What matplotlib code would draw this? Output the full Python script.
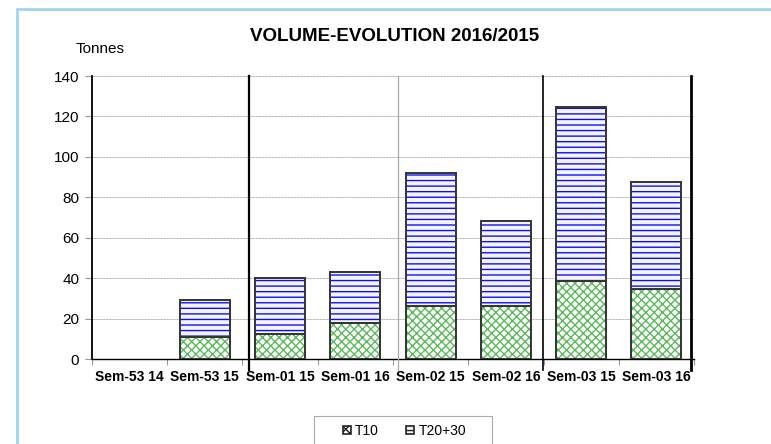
import numpy as np
import matplotlib
matplotlib.use('Agg')
import matplotlib.pyplot as plt
from matplotlib.colors import to_rgba
from matplotlib.patches import Rectangle

plt.rcParams['font.family'] = ['Liberation Sans', 'DejaVu Sans']
plt.rcParams['hatch.linewidth'] = 1.0

# Data
weeks = ['Sem-53 14', 'Sem-53 15', 'Sem-01 15', 'Sem-01 16',
         'Sem-02 15', 'Sem-02 16', 'Sem-03 15', 'Sem-03 16']
t10 = [0, 10.7, 12.5, 17.7, 26.4, 26.4, 38.8, 34.6]
t20_30 = [0, 18.5, 27.7, 25.5, 65.8, 41.9, 86.0, 53.0]

fig = plt.figure(figsize=(7.71, 4.44), dpi=100)
ax = fig.add_axes([0.119, 0.1914, 0.7813, 0.6374])

# light blue frame around the chart area
fig.patches.append(Rectangle((17 / 771, -0.01), 1.0, 1 - 9 / 444 + 0.01,
                             transform=fig.transFigure, fill=False,
                             edgecolor='#9fd6ec', linewidth=2.0))

x = np.arange(len(weeks))
w = 0.664

b1 = ax.bar(x, t10, w, color='white', edgecolor='#333333', linewidth=1.4,
            hatch='xxxx', label='T10', zorder=3)
b2 = ax.bar(x, t20_30, w, bottom=t10, color='#f4f4ff', edgecolor='#333333',
            linewidth=1.4, hatch='---', label='T20+30', zorder=3)
for p in b1:
    p._hatch_color = to_rgba('#5cb85c')
    p.stale = True
for p in b2:
    p._hatch_color = to_rgba('#1010ee')
    p.stale = True
# no outline for empty bars
for p in list(b1) + list(b2):
    if p.get_height() == 0:
        p.set_visible(False)

ax.set_xlim(-0.5, len(weeks) - 0.5)
ax.set_ylim(0, 140)
ax.set_yticks(np.arange(0, 141, 20))
ax.set_xticks(x)
ax.set_xticklabels(weeks, fontweight='bold', fontsize=10)
ax.set_xticks(np.arange(-0.5, len(weeks)), minor=True)
ax.tick_params(axis='x', which='major', length=0, pad=8)
ax.tick_params(axis='x', which='minor', length=4, color='#999999', width=0.8)
ax.tick_params(axis='y', length=5, width=0.8, color='#999999', labelsize=11, pad=4)

ax.yaxis.grid(True, color='#aaaaaa', linestyle=(0, (1, 0.5)), linewidth=0.7)
ax.set_axisbelow(True)
for s in ['top', 'right']:
    ax.spines[s].set_visible(False)
ax.spines['left'].set_linewidth(1.3)
ax.spines['bottom'].set_linewidth(1.0)

# separator lines between week groups
for xv, col, lw in [(1.59, 'black', 1.6), (3.57, '#aaaaaa', 0.9),
                    (5.49, 'black', 1.2), (7.46, 'black', 2.0)]:
    ax.axvline(xv, ymin=-0.039, ymax=1, color=col, linewidth=lw,
               clip_on=False, zorder=4)

fig.text(394.5 / 771, 1 - 36 / 444, 'VOLUME-EVOLUTION 2016/2015',
         ha='center', va='center', fontsize=13.5, fontweight='bold')
fig.text(100.5 / 771, 1 - 49 / 444, 'Tonnes', ha='center', va='center',
         fontsize=11)

# legend box (cut by the bottom edge like the reference)
fig.patches.append(Rectangle((314 / 771, -0.05), (492 - 314) / 771,
                             1 - 416 / 444 + 0.05, transform=fig.transFigure,
                             facecolor='white', edgecolor='#aaaaaa',
                             linewidth=0.8))
leg = fig.legend(handles=[b1, b2], loc='center left',
                 bbox_to_anchor=(343 / 771, 1 - 431 / 444), ncol=2,
                 fontsize=10, frameon=False, handlelength=0.55,
                 handleheight=0.55, handletextpad=0.3, columnspacing=2.0,
                 borderpad=0, borderaxespad=0)
for h in leg.legend_handles:
    h.set_linewidth(1.2)
    h.set_edgecolor('#222222')
    h.set_visible(True)

fig.savefig('out.png', dpi=100)
